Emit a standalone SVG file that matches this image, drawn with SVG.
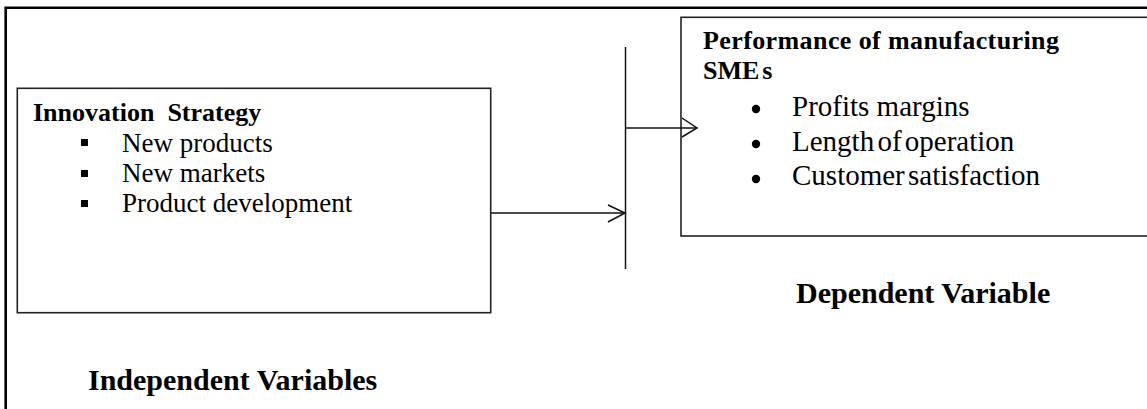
<svg xmlns="http://www.w3.org/2000/svg" width="1147" height="409" viewBox="0 0 1147 409">
<defs>
<style>
.box{fill:#fff;stroke:#222;stroke-width:1.6}
.frame{fill:none;stroke:#000;stroke-width:2.6}
.line{fill:none;stroke:#111;stroke-width:1.5}
.head{fill:none;stroke:#111;stroke-width:1.5;stroke-linejoin:miter}
.t{font-family:'Liberation Serif','Times New Roman',Times,serif;fill:#000}
.b{font-weight:bold}
</style>
</defs>
<rect width="1147" height="409" fill="#fff"/>
<path class="frame" d="M5.7,409 V7.7 H1147"/>
<g id="independent" font-family="Liberation Serif, serif">
<rect class="box" x="17.3" y="88.3" width="473.4" height="224.4"/>
<text class="t b" x="33" y="121" font-size="26" xml:space="preserve">Innovation  Strategy</text>
<rect x="81" y="139" width="7" height="7" fill="#000"/>
<rect x="81" y="170" width="7" height="7" fill="#000"/>
<rect x="81" y="200" width="7" height="7" fill="#000"/>
<text class="t" x="122" y="152" font-size="27">New products</text>
<text class="t" x="122" y="182" font-size="27">New markets</text>
<text class="t" x="122" y="212" font-size="27">Product development</text>
</g>
<g id="dependent" font-family="Liberation Serif, serif">
<rect class="box" x="681" y="17.3" width="480" height="218.7"/>
<text class="t b" x="703" y="49" font-size="26" letter-spacing="0.4">Performance of manufacturing</text>
<text class="t b" x="703" y="79" font-size="26">SME<tspan dx="3">s</tspan></text>
<circle cx="756" cy="109" r="4.2" fill="#000"/>
<circle cx="756" cy="144" r="4.2" fill="#000"/>
<circle cx="756" cy="179" r="4.2" fill="#000"/>
<text class="t" x="792" y="116" font-size="29">Profits margins</text>
<text class="t" x="792" y="151" font-size="29" word-spacing="-4">Length of operation</text>
<text class="t" x="792" y="185" font-size="29" word-spacing="-4">Customer satisfaction</text>
</g>
<g id="labels" font-family="Liberation Serif, serif">
<text class="t b" x="796" y="303" font-size="30">Dependent Variable</text>
<text class="t b" x="88" y="390" font-size="30">Independent Variables</text>
</g>
<g id="connectors">
<line class="line" x1="625.5" y1="47" x2="625.5" y2="269"/>
<line class="line" x1="491" y1="213" x2="625" y2="213"/>
<polyline class="head" points="608,205 625,213 608,222"/>
<line class="line" x1="625.5" y1="128" x2="697" y2="128"/>
<polyline class="head" points="682,118 697,128 682,137"/>
</g>
</svg>
